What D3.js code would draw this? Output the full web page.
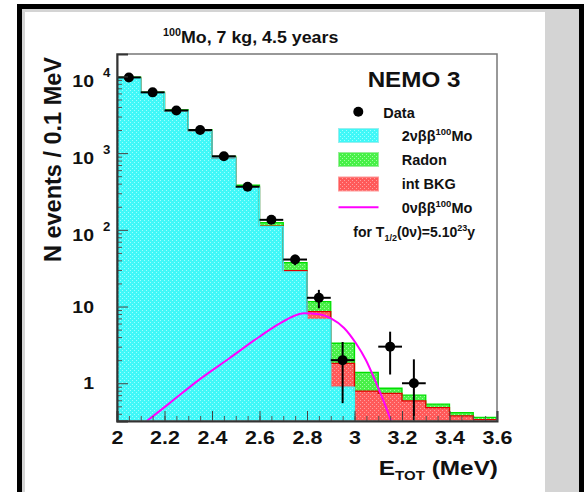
<!DOCTYPE html>
<html>
<head>
<meta charset="utf-8">
<script src="https://cdn.jsdelivr.net/npm/d3@7"></script>
<style>
  body { margin: 0; background: #fff; }
  svg { display: block; }
  text { font-family: "Liberation Sans", Arial, sans-serif; font-weight: bold; fill: #111; }
</style>
</head>
<body>
<div id="chart"></div>
<script>
// bins of 0.1 MeV
const binEdges = [2.0, 2.1, 2.2, 2.3, 2.4, 2.5, 2.6, 2.7, 2.8, 2.9, 3.0, 3.1, 3.2, 3.3, 3.4, 3.5, 3.6];

// stacked MC components (events per bin)
const twoNu  = [9450, 6030, 3550, 1950, 865, 360, 110, 28.3, 6.8, 0.89, 0.12, 0.01, 0, 0, 0, 0];
const intBkg = [12, 10, 8, 6, 5, 3, 2, 1.1, 1.8, 0.93, 0.67, 0.73, 0.59, 0.48, 0.375, 0.335];
const radon  = [300, 190, 110, 60, 35, 18, 12, 8, 3.0, 1.5, 0.6, 0.12, 0.11, 0.055, 0.04, 0.025];

// data points and their errors
const dataVals = [9700, 6200, 3600, 2000, 910, 365, 135, 41, 13, 2, 0, 3, 1, 0, 0, 0];
const dataErr  = [98, 79, 60, 45, 30, 19, 12, 6.4, 3.5, 1.45, 0, 1.7, 1.05, 0, 0, 0];

// 0vbb signal curve
const sigE   = [2.126, 2.219, 2.345, 2.472, 2.598, 2.682, 2.745, 2.787, 2.851, 2.901, 2.956, 3.006, 3.048, 3.091, 3.124, 3.154];
const sigVal = [0.322, 0.543, 1.105, 2.10, 4.01, 5.93, 7.54, 8.18, 7.96, 7.03, 5.26, 3.32, 2.01, 1.01, 0.57, 0.322];

const xTicks = [2, 2.2, 2.4, 2.6, 2.8, 3, 3.2, 3.4, 3.6];
const yDecades = [1, 10, 100, 1000, 10000];
const yDomain = [0.322, 19600];

const width = 584, height = 492;
const plot = { left: 117, right: 497, top: 54, bottom: 421 };

const svg = d3.select("#chart").append("svg")
    .attr("width", width)
    .attr("height", height);

// page frame
svg.append("rect").attr("x", 17).attr("y", 4).attr("width", 567).attr("height", 500).attr("fill", "#000");
svg.append("rect").attr("x", 22).attr("y", 9).attr("width", 557).attr("height", 500).attr("fill", "#d4d4d4");
svg.append("rect").attr("x", 25).attr("y", 12).attr("width", 520).attr("height", 500).attr("fill", "#fff");

const x = d3.scaleLinear().domain([2, 3.6]).range([plot.left, plot.right]);
const y = d3.scaleLog().domain(yDomain).range([plot.bottom, plot.top]);
const yv = v => y(Math.max(v, yDomain[0] * 0.5));

// dotted fill patterns
const defs = svg.append("defs");
function dotPattern(id, base, dot) {
  const p = defs.append("pattern").attr("id", id)
      .attr("patternUnits", "userSpaceOnUse").attr("width", 4).attr("height", 4);
  p.append("rect").attr("width", 4).attr("height", 4).attr("fill", base);
  p.append("rect").attr("x", 0).attr("y", 0).attr("width", 1).attr("height", 1).attr("fill", dot);
  p.append("rect").attr("x", 2).attr("y", 2).attr("width", 1).attr("height", 1).attr("fill", dot);
}
dotPattern("pCyan", "#40f8f8", "#9cffff");
dotPattern("pGreen", "#48f048", "#a0ffa0");
dotPattern("pRed", "#ff5a5a", "#ffa0a0");

defs.append("clipPath").attr("id", "clip")
  .append("rect").attr("x", plot.left).attr("y", plot.top)
  .attr("width", plot.right - plot.left).attr("height", plot.bottom - plot.top);

const area = svg.append("g").attr("clip-path", "url(#clip)");

// build stacked tops
const bins = twoNu.map((d, i) => ({
  lo: binEdges[i], hi: binEdges[i + 1],
  c: twoNu[i],
  r: twoNu[i] + intBkg[i],
  g: twoNu[i] + intBkg[i] + radon[i]
}));

const layers = [
  { key: "c", base: d => yDomain[0] * 0.5, fill: "url(#pCyan)", edge: "#38f4f4" },
  { key: "r", base: d => d.c, fill: "url(#pRed)", edge: "#e00000" },
  { key: "g", base: d => d.r, fill: "url(#pGreen)", edge: "#00e000" }
];

// one path per layer so neighbouring bins have no seams
layers.forEach(L => {
  const p = d3.path();
  bins.forEach(d => {
    const top = yv(d[L.key]), bot = yv(L.base(d));
    if (bot - top > 0.05) p.rect(x(d.lo), top, x(d.hi) - x(d.lo), bot - top);
  });
  area.append("path").attr("d", p.toString()).attr("fill", L.fill);
});

// histogram outlines
const step = d3.line().x(d => x(d[0])).y(d => yv(d[1])).curve(d3.curveStepAfter);
[...layers].reverse().forEach(L => {
  const pts = bins.map(d => [d.lo, d[L.key]]);
  pts.push([bins[bins.length - 1].hi, bins[bins.length - 1][L.key]]);
  area.append("path").datum(pts)
    .attr("fill", "none").attr("stroke", L.edge).attr("stroke-width", 1.3).attr("d", step);
});

// signal curve
const sigLine = d3.line().x((d, i) => x(sigE[i])).y(d => yv(d)).curve(d3.curveMonotoneX);
area.append("path").datum(sigVal)
  .attr("fill", "none").attr("stroke", "#ff00ff").attr("stroke-width", 2).attr("d", sigLine);

// data points
const pts = bins.map((d, i) => ({ lo: d.lo, hi: d.hi, v: dataVals[i], e: dataErr[i] }))
  .filter(d => d.v > 0);
area.selectAll(null).data(pts).enter().append("line")
  .attr("x1", d => x(d.lo)).attr("x2", d => x(d.hi))
  .attr("y1", d => y(d.v)).attr("y2", d => y(d.v))
  .attr("stroke", "#000").attr("stroke-width", 2);
area.selectAll(null).data(pts).enter().append("line")
  .attr("x1", d => x((d.lo + d.hi) / 2)).attr("x2", d => x((d.lo + d.hi) / 2))
  .attr("y1", d => yv(d.v - d.e)).attr("y2", d => y(d.v + d.e))
  .attr("stroke", "#000").attr("stroke-width", 2);
area.selectAll(null).data(pts).enter().append("circle")
  .attr("cx", d => x((d.lo + d.hi) / 2)).attr("cy", d => y(d.v)).attr("r", 5)
  .attr("fill", "#000");

// frame
svg.append("rect")
  .attr("x", plot.left).attr("y", plot.top)
  .attr("width", plot.right - plot.left).attr("height", plot.bottom - plot.top)
  .attr("fill", "none").attr("stroke", "#777").attr("stroke-width", 1.5);

// x axis
const xMinor = d3.range(0, 33).map(i => 2 + i * 0.05);
svg.append("g").attr("transform", `translate(0,${plot.bottom})`)
  .call(d3.axisBottom(x).tickValues(xMinor).tickSize(-5).tickFormat(""))
  .call(g => g.select(".domain").remove())
  .call(g => g.selectAll("line").attr("stroke", "#555"));
const xAxis = svg.append("g").attr("transform", `translate(0,${plot.bottom})`)
  .call(d3.axisBottom(x).tickValues(xTicks).tickSize(-10).tickPadding(10).tickFormat(d3.format("")));
xAxis.select(".domain").attr("stroke", "#333").attr("stroke-width", 2);
xAxis.selectAll("line").attr("stroke", "#444");
xAxis.selectAll("text")
  .style("font-size", "18.5px").attr("fill", "#111")
  .attr("transform", "scale(1.16,1)");

// y axis
const yMinor = [];
[0.1, 1, 10, 100, 1000, 10000].forEach(dec => {
  for (let k = 2; k <= 9; k++) {
    const v = dec * k;
    if (v > yDomain[0] && v < yDomain[1]) yMinor.push(v);
  }
});
svg.append("g").attr("transform", `translate(${plot.left},0)`)
  .call(d3.axisLeft(y).tickValues(yMinor).tickSize(-5).tickFormat(""))
  .call(g => g.select(".domain").remove())
  .call(g => g.selectAll("line").attr("stroke", "#555"));
const yAxis = svg.append("g").attr("transform", `translate(${plot.left},0)`)
  .call(d3.axisLeft(y).tickValues(yDecades).tickSize(-11).tickFormat(""));
yAxis.select(".domain").attr("stroke", "#333").attr("stroke-width", 2);
yAxis.selectAll("line").attr("stroke", "#444");

// text helper: g at (x,y) stretched horizontally by sx
function addText(px, py, anchor, size, sx, parts) {
  const t = svg.append("g")
    .attr("transform", `translate(${px},${py}) scale(${sx},1)`)
    .append("text")
    .attr("text-anchor", anchor)
    .style("font-size", size + "px");
  parts.forEach(p => {
    t.append("tspan").text(p.t)
      .attr("dy", p.dy || 0)
      .style("font-size", (p.s || size) + "px");
  });
  return t;
}

// y tick labels
yDecades.forEach(v => {
  const exp = Math.round(Math.log10(v));
  if (exp <= 1) {
    addText(94, y(v) + 6, "end", 16.5, 1.18, [{ t: String(v) }]);
  } else {
    addText(94, y(v) + 11, "end", 16.5, 1.18, [{ t: "10" }]);
    addText(103, y(v) + 1, "start", 12, 1.1, [{ t: String(exp) }]);
  }
});

// axis titles
svg.append("text")
  .attr("transform", "translate(61,57) rotate(-90)")
  .attr("text-anchor", "end")
  .style("font-size", "23.5px")
  .text("N events / 0.1 MeV");

addText(498, 475, "end", 21, 1.16, [
  { t: "E" }, { t: "TOT", s: 13, dy: 5 }, { t: " (MeV)", dy: -5 }
]);

// title
addText(163, 43, "start", 16.5, 1.08, [
  { t: "100", s: 10, dy: -7 }, { t: "Mo, 7 kg, 4.5 years", dy: 7 }
]);

// legend
addText(414, 87, "middle", 22, 1.1, [{ t: "NEMO 3" }]);

svg.append("circle").attr("cx", 358.3).attr("cy", 111.7).attr("r", 5).attr("fill", "#000");
addText(383.3, 117.5, "start", 14.5, 1.0, [{ t: "Data" }]);

const legendBoxes = [
  { y: 128.5, fill: "url(#pCyan)", edge: "#9ee" },
  { y: 152.5, fill: "url(#pGreen)", edge: "#9e9" },
  { y: 177, fill: "url(#pRed)", edge: "#f99" }
];
legendBoxes.forEach(b => {
  svg.append("rect").attr("x", 338.5).attr("y", b.y).attr("width", 40).attr("height", 14)
    .attr("fill", b.fill).attr("stroke", b.edge).attr("stroke-width", 1);
});
svg.append("line").attr("x1", 338.5).attr("x2", 378.5).attr("y1", 207.3).attr("y2", 207.3)
  .attr("stroke", "#ff00ff").attr("stroke-width", 2);

addText(401.7, 141, "start", 14.5, 1.0, [
  { t: "2νββ" }, { t: "100", s: 9.5, dy: -6 }, { t: "Mo", dy: 6 }
]);
addText(401.7, 164.5, "start", 14.5, 1.0, [{ t: "Radon" }]);
addText(401.7, 189, "start", 14.5, 1.0, [{ t: "int BKG" }]);
addText(401.7, 212.5, "start", 14.5, 1.0, [
  { t: "0νββ" }, { t: "100", s: 9.5, dy: -6 }, { t: "Mo", dy: 6 }
]);
addText(353.3, 237, "start", 14, 1.0, [
  { t: "for T" }, { t: "1/2", s: 9, dy: 4 }, { t: "(0ν)=5.10", dy: -4 },
  { t: "23", s: 9, dy: -6 }, { t: "y", dy: 6 }
]);
</script>
</body>
</html>
